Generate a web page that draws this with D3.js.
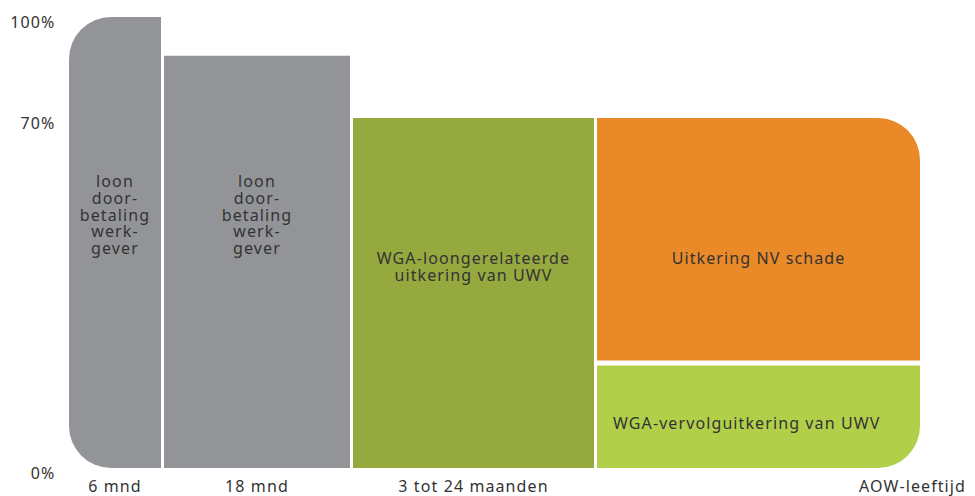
<!DOCTYPE html>
<html>
<head>
<meta charset="utf-8">
<script src="https://cdn.jsdelivr.net/npm/d3@7"></script>
<style>
  body { margin: 0; background: #fff; }
  svg { display: block; font-family: "Noto Sans", sans-serif; letter-spacing: 1.1px; }
</style>
</head>
<body>
<div id="chart"></div>
<script>
// phases along the horizontal axis (relative widths)
var phases = ["6 mnd", "18 mnd", "3 tot 24 maanden", "AOW-leeftijd"];
var phaseWidths = [95, 189, 244, 326];

// y axis ticks (percent of salary)
var yTicks = [0, 70, 100];

// the blocks: phase index, bottom and top in percent, label lines
var blockPhase = [0, 1, 2, 3, 3];
var blockFrom = [0, 0, 0, 21, 0];
var blockTo = [100, 88.5, 70, 70, 21];
var blockLabels = [
  ["loon", "door-", "betaling", "werk-", "gever"],
  ["loon", "door-", "betaling", "werk-", "gever"],
  ["WGA-loongerelateerde", "uitkering van UWV"],
  ["Uitkering NV schade"],
  ["WGA-vervolguitkering van UWV"]
];
var blockColors = ["#939498", "#939498", "#95a93f", "#e98927", "#b2cf4a"];

// styling per block: rounded corners [topLeft, topRight, bottomRight, bottomLeft],
// label anchor and vertical label centre
var blockCorners = [[1, 0, 0, 1], [0, 0, 0, 0], [0, 0, 0, 0], [0, 1, 0, 0], [0, 0, 1, 0]];
var blockAnchor = ["middle", "middle", "middle", "middle", "start"];
var labelCenterY = [215, 215, 267, 258, 423];

var width = 975, height = 496;
var radius = 42, gapX = 1.5, gapY = 2.5, lineH = 16.7;

var svg = d3.select("#chart")
  .append("svg")
  .attr("width", width)
  .attr("height", height);

// cumulative phase edges
var edges = [0];
phaseWidths.forEach(function(w, i) { edges.push(edges[i] + w); });

var x = d3.scaleLinear()
  .domain([0, d3.sum(phaseWidths)])
  .range([67.5, 921.5]);

// the scale is schematic: 70% sits high up
var y = d3.scaleLinear()
  .domain([0, 70, 100])
  .range([468, 118, 17]);

function roundedRect(x0, y0, w, h, c) {
  var r = radius;
  var tl = c[0] ? r : 0, tr = c[1] ? r : 0, br = c[2] ? r : 0, bl = c[3] ? r : 0;
  var p = d3.path();
  p.moveTo(x0 + tl, y0);
  p.lineTo(x0 + w - tr, y0);
  if (tr) p.arcTo(x0 + w, y0, x0 + w, y0 + tr, tr);
  p.lineTo(x0 + w, y0 + h - br);
  if (br) p.arcTo(x0 + w, y0 + h, x0 + w - br, y0 + h, br);
  p.lineTo(x0 + bl, y0 + h);
  if (bl) p.arcTo(x0, y0 + h, x0, y0 + h - bl, bl);
  p.lineTo(x0, y0 + tl);
  if (tl) p.arcTo(x0, y0, x0 + tl, y0, tl);
  p.closePath();
  return p.toString();
}

var blocks = blockPhase.map(function(ph, i) {
  var x0 = x(edges[ph]) + gapX;
  var x1 = x(edges[ph + 1]) - gapX;
  var yTop = y(blockTo[i]);
  var yBot = y(blockFrom[i]);
  // white gap between stacked blocks
  if (blockFrom[i] > 0) yBot -= gapY;
  if (blockPhase.some(function(p, j) { return j !== i && p === ph && blockFrom[j] === blockTo[i]; })) yTop += gapY;
  return { i: i, x0: x0, x1: x1, y0: yTop, y1: yBot };
});

svg.append("g")
  .selectAll("path")
  .data(blocks)
  .join("path")
  .attr("fill", function(d) { return blockColors[d.i]; })
  .attr("d", function(d) {
    return roundedRect(d.x0, d.y0, d.x1 - d.x0, d.y1 - d.y0, blockCorners[d.i]);
  });

// block labels
function labelX(d) {
  return blockAnchor[d.i] === "start" ? d.x0 + 16 : (d.x0 + d.x1) / 2;
}
svg.append("g")
  .selectAll("text")
  .data(blocks)
  .join("text")
  .attr("text-anchor", function(d) { return blockAnchor[d.i]; })
  .attr("fill", "#333")
  .style("font-size", "16px")
  .attr("x", labelX)
  .attr("y", function(d) {
    var n = blockLabels[d.i].length;
    return labelCenterY[d.i] - (n - 1) * lineH / 2;
  })
  .selectAll("tspan")
  .data(function(d) { return blockLabels[d.i].map(function(t, k) { return { t: t, k: k, d: d }; }); })
  .join("tspan")
  .attr("x", function(e) { return labelX(e.d); })
  .attr("dy", function(e) { return e.k === 0 ? "0.35em" : lineH; })
  .text(function(e) { return e.t; });

// y axis
var yAxis = svg.append("g")
  .attr("transform", "translate(67.5,0)")
  .call(d3.axisLeft(y).tickValues(yTicks).tickFormat(function(d) { return d + "%"; }).tickSize(0).tickPadding(12));
yAxis.select(".domain").remove();
yAxis.selectAll("text")
  .attr("fill", "#333")
  .attr("dy", "0.32em")
  .attr("y", 5)
  .style("font-size", "16px")
  .style("font-family", "Noto Sans, sans-serif");

// x labels under the phases
svg.append("g")
  .selectAll("text")
  .data(phases)
  .join("text")
  .attr("text-anchor", "middle")
  .attr("fill", "#333")
  .style("font-size", "16px")
  .attr("x", function(d, i) { return i === 3 ? x(edges[4]) - 9 : x((edges[i] + edges[i + 1]) / 2); })
  .attr("y", 492)
  .text(function(d) { return d; });
</script>
</body>
</html>
